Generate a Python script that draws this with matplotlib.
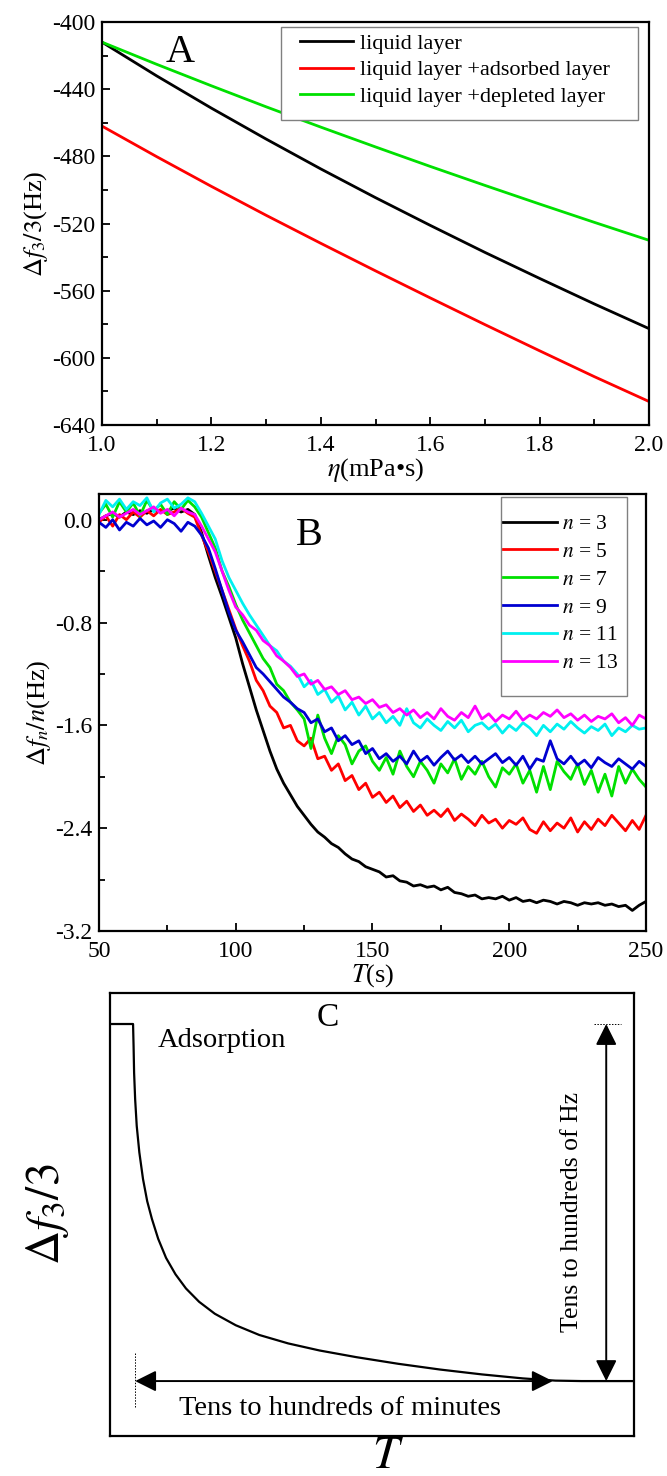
import numpy as np
import matplotlib
matplotlib.use("Agg")
import matplotlib.pyplot as plt
from matplotlib.ticker import MultipleLocator, FormatStrFormatter
from matplotlib.patches import Rectangle

plt.rcParams['font.family'] = ['Liberation Serif', 'DejaVu Serif']
plt.rcParams['mathtext.fontset'] = 'stix'
plt.rcParams['axes.unicode_minus'] = False

# ---------------- Panel A data ----------------
eta = [1.0, 1.1, 1.2, 1.3, 1.4, 1.5, 1.6, 1.7, 1.8, 1.9, 2.0]
a_liquid = [-412, -432.1, -451.3, -469.7, -487.5, -504.6, -521.1, -537.2, -552.7, -567.9, -582.6]
a_adsorbed = [-462, -480.2, -497.9, -515.1, -531.8, -548.2, -564.3, -580.2, -595.8, -611.2, -626]
a_depleted = [-412, -425.2, -438, -450.5, -462.6, -474.4, -486, -497.3, -508.4, -519.3, -530]
a_labels = ['liquid layer', 'liquid layer +adsorbed layer', 'liquid layer +depleted layer']
a_colors = ['#000000', '#ff0000', '#00e000']

# ---------------- Panel B data ----------------
t_b = np.arange(50, 250.1, 2.5)
b_n3 = [0.00, 0.03, 0.05, 0.02, 0.06, 0.04, 0.07, 0.05, 0.08, 0.06, 0.07, 0.09, 0.06, 0.08,
        0.04, -0.10, -0.28, -0.45, -0.60, -0.76, -0.92, -1.12, -1.30, -1.48, -1.64, -1.80,
        -1.94, -2.05, -2.14, -2.23, -2.30, -2.37, -2.43, -2.47, -2.52, -2.55, -2.60, -2.64,
        -2.66, -2.70, -2.72, -2.74, -2.78, -2.77, -2.81, -2.82, -2.85, -2.84, -2.86, -2.85,
        -2.88, -2.86, -2.90, -2.91, -2.93, -2.92, -2.95, -2.94, -2.95, -2.93, -2.96, -2.94,
        -2.97, -2.96, -2.98, -2.96, -2.97, -2.99, -2.97, -2.98, -3.00, -2.98, -2.99, -2.98,
        -3.00, -2.99, -3.01, -3.00, -3.04, -3.00, -2.97]
b_n5 = [-0.02, 0.03, -0.05, 0.04, 0.00, 0.06, 0.02, 0.07, 0.03, 0.08, 0.04, 0.06, 0.09, 0.05,
        0.02, -0.12, -0.25, -0.40, -0.55, -0.70, -0.85, -0.98, -1.10, -1.25, -1.33, -1.45,
        -1.50, -1.62, -1.60, -1.72, -1.76, -1.70, -1.86, -1.84, -1.95, -1.90, -2.03, -1.99,
        -2.10, -2.05, -2.16, -2.12, -2.20, -2.15, -2.24, -2.19, -2.27, -2.22, -2.30, -2.26,
        -2.31, -2.25, -2.34, -2.29, -2.33, -2.38, -2.30, -2.36, -2.33, -2.40, -2.34, -2.37,
        -2.32, -2.41, -2.44, -2.35, -2.42, -2.36, -2.40, -2.32, -2.43, -2.35, -2.41, -2.33,
        -2.38, -2.30, -2.36, -2.42, -2.34, -2.41, -2.30]
b_n7 = [0.05, 0.12, 0.02, 0.14, 0.06, 0.13, 0.03, 0.15, 0.07, 0.12, 0.04, 0.14, 0.08, 0.15,
        0.10, 0.02, -0.10, -0.22, -0.40, -0.52, -0.66, -0.78, -0.88, -0.98, -1.08, -1.15,
        -1.28, -1.33, -1.42, -1.48, -1.55, -1.78, -1.52, -1.70, -1.82, -1.68, -1.75, -1.90,
        -1.80, -1.76, -1.88, -1.95, -1.85, -1.98, -1.80, -1.92, -2.00, -1.88, -1.95, -2.05,
        -1.90, -1.97, -1.86, -2.02, -1.92, -1.98, -1.88, -2.00, -2.08, -1.93, -1.98, -1.90,
        -2.05, -1.95, -2.12, -1.92, -2.10, -1.88, -1.96, -2.02, -1.90, -2.06, -1.95, -2.12,
        -1.98, -2.15, -1.92, -2.05, -1.94, -2.02, -2.08]
b_n9 = [-0.02, -0.06, 0.00, -0.08, -0.02, -0.05, 0.01, -0.04, -0.01, -0.06, 0.00, -0.03, -0.09, -0.02,
        -0.05, -0.12, -0.22, -0.38, -0.55, -0.72, -0.86, -0.95, -1.05, -1.15, -1.20, -1.26,
        -1.32, -1.38, -1.42, -1.47, -1.50, -1.58, -1.55, -1.65, -1.62, -1.72, -1.68, -1.75,
        -1.72, -1.82, -1.78, -1.86, -1.82, -1.88, -1.84, -1.90, -1.80, -1.88, -1.84, -1.91,
        -1.85, -1.80, -1.87, -1.83, -1.89, -1.84, -1.90, -1.86, -1.82, -1.89, -1.85, -1.91,
        -1.84, -1.94, -1.86, -1.88, -1.72, -1.86, -1.90, -1.84, -1.91, -1.87, -1.93, -1.85,
        -1.89, -1.92, -1.86, -1.90, -1.94, -1.88, -1.92]
b_n11 = [0.04, 0.15, 0.10, 0.16, 0.08, 0.14, 0.11, 0.17, 0.06, 0.13, 0.16, 0.09, 0.12, 0.17,
         0.14, 0.05, -0.05, -0.15, -0.32, -0.45, -0.55, -0.65, -0.74, -0.82, -0.90, -0.98,
         -1.02, -1.10, -1.14, -1.20, -1.30, -1.25, -1.36, -1.32, -1.42, -1.37, -1.48, -1.42,
         -1.52, -1.45, -1.55, -1.50, -1.58, -1.53, -1.60, -1.47, -1.58, -1.62, -1.55, -1.60,
         -1.64, -1.57, -1.62, -1.56, -1.65, -1.60, -1.58, -1.63, -1.59, -1.66, -1.60, -1.64,
         -1.58, -1.62, -1.68, -1.60, -1.65, -1.59, -1.63, -1.57, -1.62, -1.66, -1.61, -1.64,
         -1.59, -1.68, -1.62, -1.65, -1.60, -1.63, -1.62]
b_n13 = [0.00, 0.03, 0.06, 0.02, 0.05, 0.08, 0.04, 0.07, 0.10, 0.05, 0.08, 0.03, 0.09, 0.06,
         0.04, -0.05, -0.15, -0.25, -0.40, -0.55, -0.68, -0.74, -0.82, -0.86, -0.94, -0.98,
         -1.06, -1.10, -1.15, -1.22, -1.20, -1.28, -1.25, -1.32, -1.30, -1.36, -1.33, -1.40,
         -1.38, -1.43, -1.40, -1.46, -1.44, -1.50, -1.47, -1.52, -1.48, -1.54, -1.50, -1.55,
         -1.47, -1.53, -1.56, -1.50, -1.54, -1.45, -1.55, -1.51, -1.57, -1.52, -1.55, -1.49,
         -1.56, -1.52, -1.55, -1.50, -1.53, -1.48, -1.54, -1.51, -1.56, -1.52, -1.57, -1.53,
         -1.55, -1.51, -1.58, -1.54, -1.60, -1.52, -1.55]
b_series = [b_n3, b_n5, b_n7, b_n9, b_n11, b_n13]
b_labels = [r'$n$ = 3', r'$n$ = 5', r'$n$ = 7', r'$n$ = 9', r'$n$ = 11', r'$n$ = 13']
b_colors = ['#000000', '#ff0000', '#00e000', '#0000d0', '#00f0f0', '#ff00ff']

# ---------------- Panel C data (schematic curve, axes units 0-100) ----------------
c_t = [0, 4.4, 4.5, 4.6, 4.8, 5.1, 5.6, 6.3, 7.1, 8.0, 9.2, 10.7, 12.5, 14.5, 17.0, 20.0,
       24.0, 28.5, 34.0, 40.0, 47.0, 55.0, 63.0, 71.0, 78.8, 85.0, 90.0, 100]
c_f = [93.0, 93.0, 88.0, 82.0, 76.0, 70.0, 64.0, 58.0, 53.0, 49.0, 44.5, 40.2, 36.5, 33.3, 30.3, 27.6,
       25.0, 22.8, 20.9, 19.3, 17.8, 16.3, 15.0, 13.9, 13.0, 12.5, 12.4, 12.4]

W, H = 667, 1476
fig = plt.figure(figsize=(W / 100, H / 100), dpi=100)


def box(l, t, r, b):
    return [l / W, 1 - b / H, (r - l) / W, (b - t) / H]


def style_axes(ax):
    for s in ax.spines.values():
        s.set_linewidth(1.6)
    ax.tick_params(which='both', direction='in', top=False, right=False, labelsize=17, width=1.3)
    ax.tick_params(which='major', length=6)
    ax.tick_params(which='minor', length=4)
    ax.tick_params(axis='x', pad=7)
    ax.tick_params(axis='y', pad=5)


def legend_box(ax, l, t, r, b, axl, axt, axr, axb):
    x0 = (l - axl) / (axr - axl)
    y0 = 1 - (b - axt) / (axb - axt)
    w = (r - l) / (axr - axl)
    h = (b - t) / (axb - axt)
    ax.add_patch(Rectangle((x0, y0), w, h, transform=ax.transAxes, facecolor='white',
                           edgecolor='#808080', lw=1.0, zorder=4))


# Panel A
AL, AT, AR, AB = 102, 22, 649, 425
axA = fig.add_axes(box(AL, AT, AR, AB))
for y, lab, col in zip([a_liquid, a_adsorbed, a_depleted], a_labels, a_colors):
    axA.plot(eta, y, color=col, lw=2, label=lab)
axA.set_xlim(1.0, 2.0)
axA.set_ylim(-640, -400)
axA.xaxis.set_major_locator(MultipleLocator(0.2))
axA.xaxis.set_minor_locator(MultipleLocator(0.1))
axA.yaxis.set_major_locator(MultipleLocator(40))
axA.yaxis.set_minor_locator(MultipleLocator(20))
axA.xaxis.set_major_formatter(FormatStrFormatter('%.1f'))
style_axes(axA)
axA.set_xlabel(r'$\eta$(mPa•s)', fontsize=19, labelpad=0)
axA.set_ylabel(r'$\Delta f_3/3$(Hz)', fontsize=19, labelpad=1)
legend_box(axA, 281, 27, 638, 120, AL, AT, AR, AB)
legA = axA.legend(loc='upper left', bbox_to_anchor=((300 - AL) / (AR - AL), 1 - (33 - AT) / (AB - AT)),
                  borderaxespad=0, borderpad=0, frameon=False, fontsize=16, handlelength=2.4,
                  labelspacing=0.28, handletextpad=0.3)
legA.set_zorder(5)
axA.text(0.143, 0.925, 'A', transform=axA.transAxes, fontsize=29, ha='center', va='center')

# Panel B
BL, BT, BR, BB = 99, 494, 646, 931
axB = fig.add_axes(box(BL, BT, BR, BB))
for y, lab, col in zip(b_series, b_labels, b_colors):
    axB.plot(t_b, y, color=col, lw=2, label=lab)
axB.set_xlim(50, 250)
axB.set_ylim(-3.2, 0.2)
axB.xaxis.set_major_locator(MultipleLocator(50))
axB.xaxis.set_minor_locator(MultipleLocator(25))
axB.yaxis.set_major_locator(MultipleLocator(0.8))
axB.yaxis.set_minor_locator(MultipleLocator(0.4))
axB.yaxis.set_major_formatter(FormatStrFormatter('%.1f'))
style_axes(axB)
axB.set_xlabel(r'$T$(s)', fontsize=19, labelpad=0)
axB.set_ylabel(r'$\Delta f_n/n$(Hz)', fontsize=19, labelpad=1)
legend_box(axB, 501, 497, 627, 696, BL, BT, BR, BB)
legB = axB.legend(loc='upper left', bbox_to_anchor=((503 - BL) / (BR - BL), 1 - (514 - BT) / (BB - BT)),
                  borderaxespad=0, borderpad=0, frameon=False, fontsize=15.5, handlelength=2.5,
                  labelspacing=0.36, handletextpad=0.25)
legB.set_zorder(5)
axB.text(0.385, 0.905, 'B', transform=axB.transAxes, fontsize=29, ha='center', va='center')

# Panel C
axC = fig.add_axes(box(110, 993, 634, 1436))
axC.plot(c_t, c_f, color='black', lw=1.6)
axC.set_xlim(0, 100)
axC.set_ylim(0, 100)
axC.set_xticks([])
axC.set_yticks([])
for s in axC.spines.values():
    s.set_linewidth(1.6)
axC.set_xlabel(r'$T$', fontsize=34, labelpad=0, x=0.53)
axC.set_ylabel(r'$\Delta f_3/3$', fontsize=34, labelpad=28)
axC.text(41.6, 94.5, 'C', fontsize=24, ha='center', va='center')
axC.text(9.2, 89.3, 'Adsorption', fontsize=20.5, ha='left', va='center')
# horizontal double arrow
axC.annotate('', xy=(4.8, 12.4), xytext=(84.5, 12.4),
             arrowprops=dict(arrowstyle='<|-|>', color='black', lw=1.4, mutation_scale=32,
                             shrinkA=0, shrinkB=0))
axC.plot([4.8, 4.8], [6.5, 18.7], color='black', lw=0.7, ls=(0, (1.5, 1.5)))
axC.text(43.9, 6.3, 'Tens to hundreds of minutes', fontsize=20.5, ha='center', va='center')
# vertical double arrow
axC.annotate('', xy=(94.7, 93.0), xytext=(94.7, 12.4),
             arrowprops=dict(arrowstyle='<|-|>', color='black', lw=1.4, mutation_scale=32,
                             shrinkA=0, shrinkB=0))
axC.plot([92.4, 97.5], [93.0, 93.0], color='black', lw=0.7, ls=(0, (1.5, 1.5)))
axC.text(88.2, 50.5, 'Tens to hundreds of Hz', fontsize=18.5, ha='center', va='center', rotation=90)

fig.savefig('out.png', dpi=100)
